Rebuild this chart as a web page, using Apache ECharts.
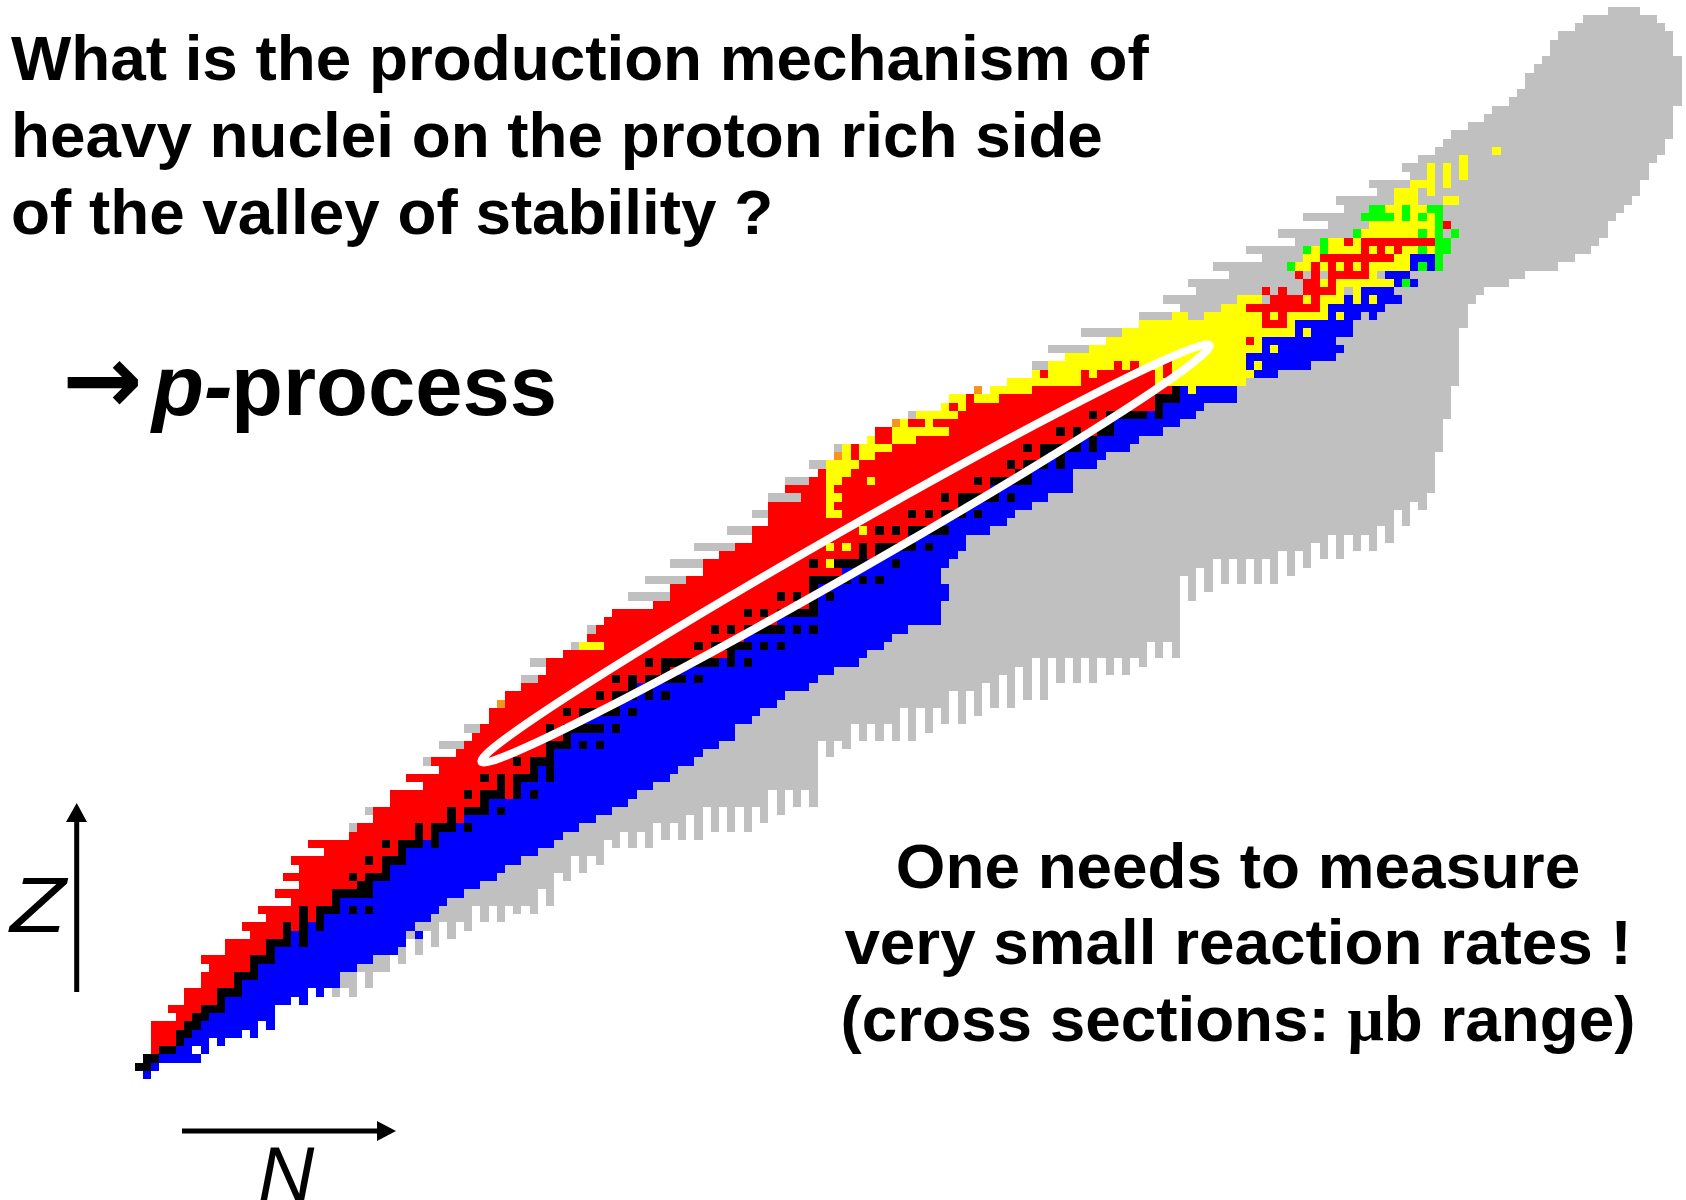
<!DOCTYPE html>
<html><head><meta charset="utf-8">
<style>html,body{margin:0;padding:0;background:#fff}#c{width:1686px;height:1200px}</style>
<script src="https://cdn.jsdelivr.net/npm/echarts@6/dist/echarts.min.js"></script>
</head><body><div id="c"></div>
<script>
// Z (row) -> first red cell, indexed from Z=3
const redLeft = [1,1,1,1,4,3,5,5,7,7,8,7,10,10,13,12,15,14,18,16,19,17,19,18,22,20,25,26,28,28,30,30,34,32,36,35,38,39,40,41,42,42,44,44,46,48,49,49,51,56,54,55,56,57,62,64,64,66,68,68,70,72,74,74,76,76,76,80,78,81,82,87,86,86,89,89,93,99,98,100,108,114,114];
// Z -> last red cell, indexed from Z=3
const redRight = [1,3,3,4,5,6,8,8,10,10,12,12,14,14,16,18,20,20,22,22,25,26,28,28,30,30,34,34,38,38,40,44,44,44,46,46,48,48,50,50,52,52,56,56,58,60,64,62,70,68,72,72,76,76,80,80,80,80,84,83,88,88,92,92,96,96,98,98,102,102,105,106,108,108,112,115,116,116,122,122,124,122,124];
// Z -> last blue cell of the main band, indexed from Z=18
const blueRight = [32,34,35,36,38,40,42,43,45,47,49,50,52,54,56,58,59,61,63,64,66,67,69,71,71,73,74,76,77,80,81,83,86,87,89,90,92,96,96,96,97,97,96,96,97,98,99,99,102,104,105,107,109,112,112,112,115,116,119,120,123,125,127,128,132,132];
// blue runs [Z, first N, last N] in the lowest rows and the top of the band
const blueRuns = [[0,0,0],[1,1,1],[2,2,6],[3,4,5],[3,7,7],[4,5,7],[4,9,9],[5,6,11],[5,13,13],[6,7,13],[6,15,15],[7,8,15],[8,10,15],[9,10,17],[9,19,19],[10,12,19],[10,21,21],[11,12,23],[12,14,23],[13,14,25],[14,16,27],[15,16,30],[16,18,31],[17,18,31],[17,33,33],
[85,135,137],[86,134,134],[86,136,141],[87,134,144],[88,136,136],[88,138,145],[89,136,144],[90,140,146],[91,140,146],[92,144,144],[92,146,147],[92,149,149],[93,144,150],[94,146,146],[94,148,148],[94,150,152],[95,148,151],[96,152,152],[96,154,154],[97,151,153],[98,154,154],[98,156,156],[99,154,156]];
// gray: lowest Z of each column N, indexed from N=23
const grayFloor = [10,11,10,13,11,13,13,15,14,17,
15,18,16,19,17,19,18,21,19,21,
19,21,20,21,20,23,21,25,24,27,
25,27,26,29,28,30,28,30,28,31,
29,31,29,32,29,33,30,33,30,33,
30,33,31,35,32,35,33,35,33,41,
39,41,40,43,41,43,41,43,41,45,
41,45,42,45,43,47,43,47,44,48,
45,49,45,50,46,51,46,51,48,51,
48,51,48,51,49,51,49,51,50,53,
51,53,51,61,58,62,59,63,60,63,
60,63,60,63,60,64,61,64,62,65,
63,66,63,66,64,66,64,67,65,69,
67,70,69,71,76,80,84,91,94,95,
96,96,96,97,97,98,98,98,98,99,
99,100,100,101,102,104,105,106,107,109,
111,112,114,118];
// gray: first N of a row where gray sticks out left of the coloured band [Z, N]
const grayEdge = [[30,25],[32,27],[38,34],[40,36],[42,39],[48,46],[50,47],[52,52],[54,54],[58,59],[60,61],[62,64],[64,67],[66,71],[68,74],[70,76],[72,78],[74,81],[75,84],[76,84],[77,88],[78,89],[79,91],[80,93],[81,97],[82,98],[83,103],[84,105],[85,108],[86,108],[87,112],[88,110],[89,117],[90,114],[91,121],[92,121],[93,126],[94,124],[95,128],[96,127],[97,132],[98,130],[99,136],[100,134],[101,140],[102,138],[103,144],[104,141],[105,146],[106,145],[107,150],[108,149],[109,154],[110,153],[111,155],[112,157],[113,158],[114,159],[115,161],[116,163],[117,164],[118,166],[119,167],[120,168],[121,168],[122,169],[123,170],[124,171],[125,171],[126,172],[127,174],[128,175],[129,178]];
// gray: last N of the top rows [Z, N]
const grayTopRight = [[129,181],[128,183],[127,184],[126,185],[125,185],[124,185]];
const yellowRuns = [[52,53,55],[62,83,83],[64,83,83],[64,85,85],[66,87,87],[68,83,84],[69,83,83],[70,83,84],[71,83,83],[72,83,84],[72,88,88],[73,83,85],[74,83,86],[75,85,85],[75,87,88],[76,85,85],[76,87,90],[77,88,88],[77,91,93],[78,91,97],[79,92,92],[79,95,95],[80,94,98],[81,97,97],[81,99,99],[82,98,99],[82,101,103],[83,103,107],[83,127,127],[84,105,113],[84,123,133],[85,108,108],[85,110,113],[85,115,115],[85,123,123],[85,125,134],[86,110,117],[86,119,119],[86,121,133],[86,135,135],[87,112,133],[88,115,135],[88,137,137],[89,117,133],[89,135,135],[90,119,139],[90,141,141],[91,121,135],[91,139,139],[92,125,126],[92,129,135],[92,137,137],[92,139,143],[92,145,145],[93,131,133],[93,143,143],[94,133,135],[94,141,141],[94,143,145],[94,147,147],[94,149,149],[95,145,145],[95,147,147],[96,143,143],[96,145,151],[97,149,149],[98,140,141],[98,143,143],[98,145,145],[98,147,147],[98,149,153],[99,141,142],[99,152,153],[100,142,142],[100,144,147],[100,149,149],[100,151,151],[100,153,154],[100,156,156],[101,144,145],[101,147,147],[102,148,154],[102,156,156],[103,149,156],[104,152,152],[104,154,154],[104,156,156],[105,151,152],[105,154,155],[106,152,154],[106,158,159],[107,152,154],[107,156,156],[108,154,156],[108,158,158],[109,156,156],[109,158,158],[109,160,160],[110,156,156],[110,158,158],[110,160,160],[111,160,160],[112,164,164]];
const redExtra = [[85,109,109],[86,118,118],[86,120,120],[86,124,124],[89,134,134],[91,136,138],[92,136,136],[92,138,138],[93,134,142],[94,137,140],[94,142,142],[95,136,136],[95,138,138],[95,141,144],[96,141,142],[96,144,144],[97,140,140],[97,142,142],[97,144,148],[98,142,142],[98,144,144],[98,146,146],[98,148,148],[99,143,151],[100,148,148],[100,150,150],[100,152,152],[101,146,146],[101,148,156],[103,158,158]];
const greenRuns = [[96,153,153],[98,139,139],[98,155,155],[98,157,157],[99,157,157],[100,141,141],[100,143,143],[100,155,155],[100,157,158],[101,143,143],[101,157,158],[102,147,147],[102,155,155],[102,157,157],[102,159,159],[103,157,157],[104,148,151],[104,153,153],[104,155,155],[104,157,157],[105,149,150],[105,153,153],[105,156,157]];
const orangeRuns = [[45,43,43],[75,84,84],[79,91,91],[83,101,101]];
const blackRuns = [[1,-1,0],[2,0,1],[3,2,3],[4,4,4],[5,4,5],[6,5,6],[7,6,7],[8,7,9],[9,9,9],[10,9,11],[11,11,11],[12,11,13],[13,13,13],[14,13,15],[15,15,15],[16,15,17],[16,19,19],[17,17,17],[17,19,19],[18,17,17],[18,19,19],[18,21,21],[19,19,19],[19,21,21],[20,19,19],[20,21,23],[20,25,25],[20,27,27],[21,23,23],[22,23,27],[23,26,27],[24,25,25],[24,27,29],[25,29,29],[26,27,27],[26,29,31],[27,31,31],[28,29,29],[28,31,33],[28,35,35],[29,33,33],[29,35,35],[30,33,33],[30,35,37],[30,39,39],[31,37,37],[32,37,37],[32,39,41],[32,43,43],[33,41,41],[34,39,39],[34,41,43],[34,45,45],[34,47,47],[35,43,43],[35,45,45],[36,41,41],[36,43,43],[36,45,47],[36,49,49],[37,47,47],[37,49,49],[38,45,45],[38,47,49],[39,49,49],[40,49,51],[40,53,53],[40,55,55],[41,51,51],[42,49,49],[42,51,55],[42,57,57],[44,51,51],[44,53,57],[44,59,59],[45,57,57],[46,55,55],[46,57,59],[46,61,61],[46,63,63],[47,59,59],[47,61,61],[48,57,57],[48,59,59],[48,61,65],[48,67,67],[49,63,63],[50,61,61],[50,63,69],[50,71,71],[50,73,73],[51,71,71],[52,67,67],[52,69,73],[52,75,75],[52,77,77],[54,69,69],[54,71,71],[54,73,77],[54,79,79],[54,81,81],[56,73,73],[56,75,75],[56,77,81],[57,81,81],[58,77,77],[58,79,79],[58,81,81],[58,83,83],[59,81,81],[60,81,85],[60,87,87],[60,89,89],[62,81,81],[62,84,87],[62,91,91],[63,87,87],[63,89,89],[64,87,87],[64,89,93],[64,95,95],[66,89,89],[66,91,91],[66,93,97],[68,93,93],[68,95,95],[68,97,99],[68,101,101],[69,99,99],[70,97,97],[70,99,103],[70,105,105],[72,101,101],[72,103,107],[73,106,107],[74,105,105],[74,107,109],[74,111,111],[75,109,109],[75,111,111],[76,107,107],[76,109,113],[76,115,115],[77,113,113],[77,115,115],[78,111,111],[78,113,113],[78,116,117],[79,117,117],[80,115,115],[80,117,121],[80,123,123],[81,123,123],[82,123,125],[83,125,125]];
const titleLines = ['What is the production mechanism of','heavy nuclei on the proton rich side','of the valley of stability ?'];
const noteLines = ['One needs to measure','very small reaction rates !','(cross sections: {mu|μ}b range)'];

const Z_MAX = 129, N_MAX = 186;
const grayRuns = [];
const edgeOf = new Map(grayEdge), topOf = new Map(grayTopRight);
for (let z = 10; z <= Z_MAX; z++) {
  const first = edgeOf.has(z) ? edgeOf.get(z) : redLeft[z - 3];
  const last = topOf.has(z) ? topOf.get(z) : N_MAX;
  let start = null;
  for (let n = Math.max(first, 23); n <= last + 1; n++) {
    const on = n <= last && n - 23 < grayFloor.length && grayFloor[n - 23] <= z;
    if (on && start === null) start = n;
    if (!on && start !== null) { grayRuns.push([z, start, n - 1]); start = null; }
  }
}
const mainBlue = blueRight.map((r, i) => [i + 18, Math.max(redRight[i + 15] + 1, 0), r]);
const mainRed = redLeft.map((l, i) => [i + 3, l, redRight[i]]);
const allBlue = blueRuns.concat(mainBlue);
const allRed = mainRed.filter(r => r[2] >= r[1]);

function cell(params, api) {
  const z = api.value(0), a = api.value(1), b = api.value(2);
  const p0 = api.coord([a, z + 1]), p1 = api.coord([b + 1, z]);
  const x0 = Math.round(p0[0]), y0 = Math.round(p0[1]);
  return { type: 'rect', shape: { x: x0, y: y0, width: Math.round(p1[0]) - x0, height: Math.round(p1[1]) - y0 },
    style: { fill: api.visual('color') }, silent: true };
}
const layer = (name, data, color) => ({ name, type: 'custom', renderItem: cell, data, itemStyle: { color }, animation: false, clip: false, encode: { x: [1, 2], y: 0 } });
const label = (text, x, y, font, align) => ({ type: 'text', z: 100, style: { text, x, y, font, fill: '#000', textAlign: align || 'left', rich: { mu: { font: 'bold 64px "Liberation Serif"', fill: '#000' } } } });
const BOLD = 'bold 63.8px "Liberation Sans"';
const graphics = [];
titleLines.forEach((t, i) => graphics.push(label(t, 11, 30 + i * 77.3, BOLD)));
noteLines.forEach((t, i) => graphics.push(label(t, 1238, 838 + i * 76.8, BOLD, 'center')));
graphics.push(label('→', 62, 340, 'italic bold 96px "DejaVu Sans"'));
graphics.push(label('p-', 152, 349, 'italic bold 85px "Liberation Sans"'));
graphics.push(label('process', 231, 349, 'bold 85px "Liberation Sans"'));
const zLabel = label('Z', 0, 0, 'italic 78px "Liberation Sans"');
zLabel.x = 10; zLabel.y = 871; zLabel.scaleX = 1.17;
graphics.push(zLabel);
graphics.push(label('N', 258, 1140, 'italic 78px "Liberation Sans"'));
graphics.push({ type: 'ellipse', z: 90, x: 845.5, y: 553.5, rotation: 0.5196, shape: { cx: 0, cy: 0, rx: 419.5, ry: 21 }, style: { fill: 'none', stroke: '#fff', lineWidth: 8 } });
graphics.push({ type: 'line', z: 95, shape: { x1: 76.7, y1: 992, x2: 76.7, y2: 815 }, style: { stroke: '#000', lineWidth: 5 } });
graphics.push({ type: 'polygon', z: 95, shape: { points: [[76.7, 803], [66, 822], [87, 822]] }, style: { fill: '#000' } });
graphics.push({ type: 'line', z: 95, shape: { x1: 182, y1: 1131, x2: 380, y2: 1131 }, style: { stroke: '#000', lineWidth: 5 } });
graphics.push({ type: 'polygon', z: 95, shape: { points: [[396, 1131], [377, 1121], [377, 1141]] }, style: { fill: '#000' } });

const chart = echarts.init(document.getElementById('c'), null, { renderer: 'canvas' });
chart.setOption({
  animation: false, backgroundColor: '#fff',
  grid: { left: 143 - 2 * 8.228, top: 6.5, width: 189 * 8.228, height: 130 * 8.25 },
  xAxis: { type: 'value', min: -2, max: 187, show: false },
  yAxis: { type: 'value', min: 0, max: 130, show: false },
  series: [
    layer('not measured', grayRuns, '#c0c0c0'),
    layer('blue', allBlue, '#0000ff'),
    layer('red', allRed, '#ff0000'),
    layer('yellow', yellowRuns, '#ffff00'),
    layer('red extra', redExtra, '#ff0000'),
    layer('green', greenRuns, '#00ff00'),
    layer('orange', orangeRuns, '#f7941d'),
    layer('stable', blackRuns, '#000000')
  ],
  graphic: graphics
});
</script></body></html>
